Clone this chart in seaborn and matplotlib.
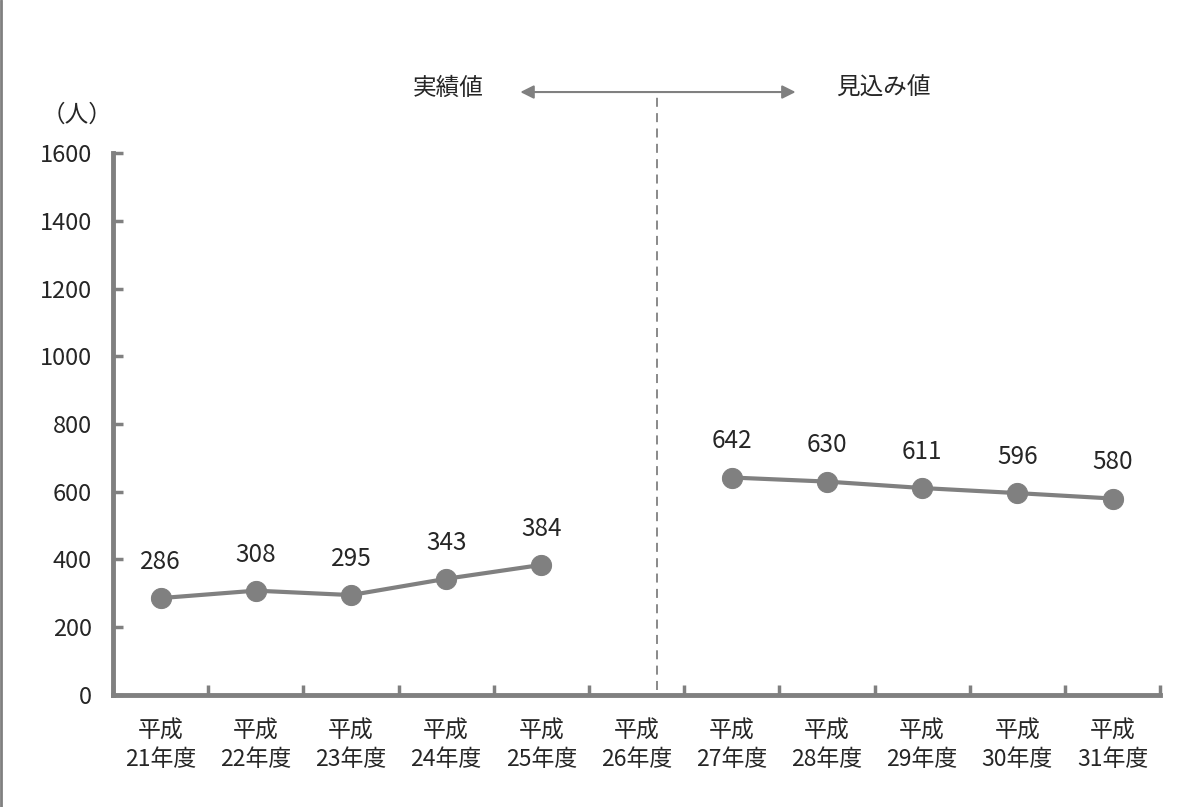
import numpy as np
import pandas as pd
import matplotlib
matplotlib.use("Agg")
import matplotlib.pyplot as plt
from matplotlib.lines import Line2D
import seaborn as sns

# data
years = ["21", "22", "23", "24", "25", "26", "27", "28", "29", "30", "31"]
actual_years = ["21", "22", "23", "24", "25"]
actual_values = [286, 308, 295, 343, 384]
forecast_years = ["27", "28", "29", "30", "31"]
forecast_values = [642, 630, 611, 596, 580]
y_ticks = [0, 200, 400, 600, 800, 1000, 1200, 1400, 1600]

sns.set_theme(style="white")
plt.rcParams['font.family'] = ['Noto Sans CJK JP', 'DejaVu Sans']

GRAY = "#808080"

pos = {y: i for i, y in enumerate(years)}
df = pd.concat([
    pd.DataFrame({"x": [pos[y] for y in actual_years], "value": actual_values, "period": "actual"}),
    pd.DataFrame({"x": [pos[y] for y in forecast_years], "value": forecast_values, "period": "forecast"}),
])

fig = plt.figure(figsize=(11.79, 8.07), dpi=100)
ax = fig.add_axes([0.0958, 0.1388, 0.8882, 0.6716])

sns.lineplot(data=df, x="x", y="value", units="period", estimator=None,
             color=GRAY, linewidth=3, marker="o", markersize=14.5,
             markeredgecolor=GRAY, ax=ax)

for _, row in df.iterrows():
    ax.annotate(f"{row['value']}", (row["x"], row["value"]), xytext=(0, 26),
                textcoords="offset points", ha="center", va="center", fontsize=17.5)

ax.set_xlim(-0.5, len(years) - 0.5)
ax.set_ylim(0, 1600)

# ticks on category boundaries, labels on centres
ax.set_xticks(np.arange(-0.5, len(years), 1.0))
ax.set_xticklabels([])
ax.set_xticks(np.arange(len(years)), minor=True)
ax.set_xticklabels([f"平成\n{y}年度" for y in years], minor=True, fontsize=16.5, linespacing=1.3)
ax.tick_params(axis="x", which="major", bottom=True, direction="in", length=7, width=2.5, color=GRAY)
ax.tick_params(axis="x", which="minor", bottom=True, length=0, pad=18)
ax.set_yticks(y_ticks)
ax.set_yticklabels([str(v) for v in y_ticks], fontsize=17)
ax.tick_params(axis="y", left=True, direction="in", length=7, width=2.5, color=GRAY, pad=15)

for side in ["top", "right"]:
    ax.spines[side].set_visible(False)
for side in ["left", "bottom"]:
    ax.spines[side].set_color(GRAY)
    ax.spines[side].set_linewidth(3.5)

ax.set_xlabel("")
ax.set_ylabel("")
ax.text(-0.068, 1.069, "（人）", transform=ax.transAxes, fontsize=17, ha="left", va="center")

# actual / forecast divider
ax.plot([5.21, 5.21], [15, 1780], ls=(0, (5, 3.5)), color=GRAY, lw=1.3, clip_on=False)
ax.annotate("", xy=(3.75, 1780), xytext=(6.7, 1780),
            arrowprops=dict(arrowstyle="<|-|>", color=GRAY, lw=1.5, mutation_scale=20),
            annotation_clip=False)
ax.text(3.02, 1790, "実績値", fontsize=17, ha="center", va="center")
ax.text(7.59, 1790, "見込み値", fontsize=17, ha="center", va="center")

fig.add_artist(Line2D([0.001, 0.001], [0, 1], transform=fig.transFigure, color=GRAY, lw=2))

fig.savefig("out.png", dpi=100)
